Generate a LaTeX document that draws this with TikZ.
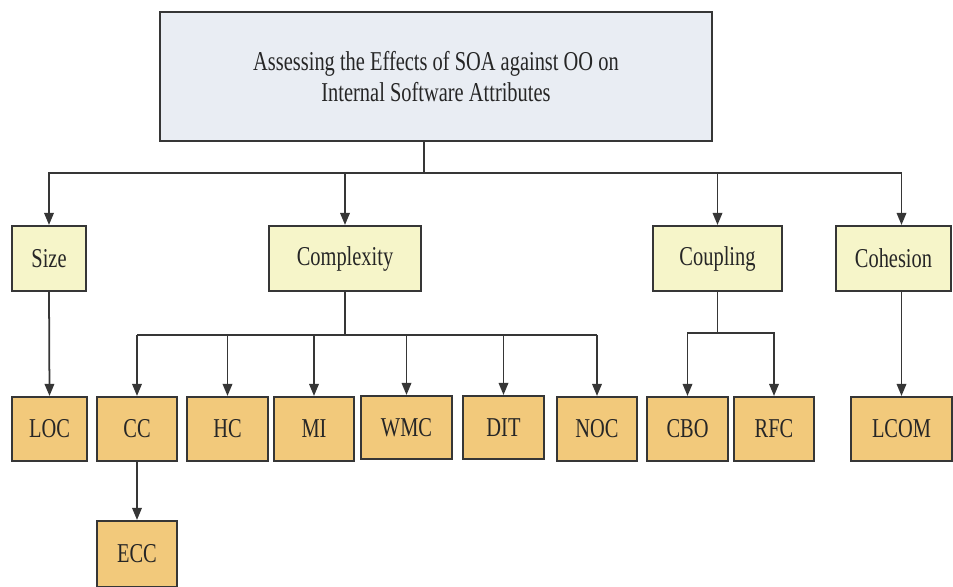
\documentclass[tikz,border=0pt]{standalone}
\usepackage{fontspec}
\setmainfont[FakeStretch=0.75]{Liberation Serif}
\usetikzlibrary{arrows.meta,calc}
\definecolor{topfill}{HTML}{E9EDF3}
\definecolor{catfill}{HTML}{F6F5C9}
\definecolor{metfill}{HTML}{F2C97B}
\definecolor{edge}{HTML}{363636}
\begin{document}
\begin{tikzpicture}[x=0.02cm, y=-0.02cm,
    every node/.style={font=\fontsize{15.5}{18}\selectfont, text=black!85, inner sep=0pt},
    box/.style={draw=edge, line width=1.2pt, minimum height=1.3cm},
    topbox/.style={box, fill=topfill, minimum width=11.04cm, minimum height=2.58cm, align=center},
    catbox/.style={box, fill=catfill},
    metbox/.style={box, fill=metfill, minimum height=1.28cm},
    link/.style={draw=edge, line width=1pt},
    arr/.style={link, -{Triangle[length=0.24cm, width=0.19cm]}}]
    \useasboundingbox (0,0) rectangle (953,587);
    \node[topbox] (top) at (436,76.5) {Assessing the Effects of SOA against OO on\\Internal Software Attributes};
    \node[catbox, minimum width=1.48cm] (size) at (49,258.5) {Size};
    \node[catbox, minimum width=3.04cm] (cplx) at (345,258.5) {Complexity};
    \node[catbox, minimum width=2.58cm] (coup) at (717.5,258.5) {Coupling};
    \node[catbox, minimum width=2.3cm] (coh) at (893.5,258.5) {Cohesion};
    \node[metbox, minimum width=1.5cm] (loc) at (49.5,429) {LOC};
    \node[metbox, minimum width=1.6cm] (cc) at (137,429) {CC};
    \node[metbox, minimum width=1.62cm] (hc) at (227.5,429) {HC};
    \node[metbox, minimum width=1.6cm] (mi) at (314,429) {MI};
    \node[metbox, minimum width=1.82cm, minimum height=1.26cm] (wmc) at (406.5,427.5) {WMC};
    \node[metbox, minimum width=1.62cm, minimum height=1.26cm] (dit) at (503.5,427.5) {DIT};
    \node[metbox, minimum width=1.6cm] (noc) at (597,429) {NOC};
    \node[metbox, minimum width=1.62cm] (cbo) at (687.5,429) {CBO};
    \node[metbox, minimum width=1.6cm] (rfc) at (774,429) {RFC};
    \node[metbox, minimum width=2.02cm] (lcom) at (901.5,429) {LCOM};
    \node[metbox, minimum width=1.6cm, minimum height=1.32cm] (ecc) at (137,554) {ECC};
    % first level
    \coordinate (bus) at (424,173);
    \draw[link] (top.south -| bus) -- (bus);
    \draw[arr] (bus) -| (size.north);
    \draw[arr] (bus) -| (lcom.north |- coh.north);
    \draw[arr] (cplx.north |- bus) -- (cplx.north);
    \draw[arr] (coup.north |- bus) -- (coup.north);
    % second level
    \coordinate (cbus) at (345,335);
    \draw[link] (cplx.south) -- (cbus);
    \draw[link] (cc.north |- cbus) -- (noc.north |- cbus);
    \foreach \n in {cc,hc,mi,wmc,dit,noc}
        \draw[arr] (\n.north |- cbus) -- (\n.north);
    \coordinate (pbus) at (717.5,333);
    \draw[link] (coup.south) -- (pbus);
    \draw[arr] (pbus) -| (cbo.north);
    \draw[arr] (pbus) -| (rfc.north);
    \draw[arr] (size.south) -- (loc.north);
    \draw[arr] (lcom.north |- coh.south) -- (lcom.north);
    \draw[arr] (cc.south) -- (ecc.north);
\end{tikzpicture}
\end{document}
